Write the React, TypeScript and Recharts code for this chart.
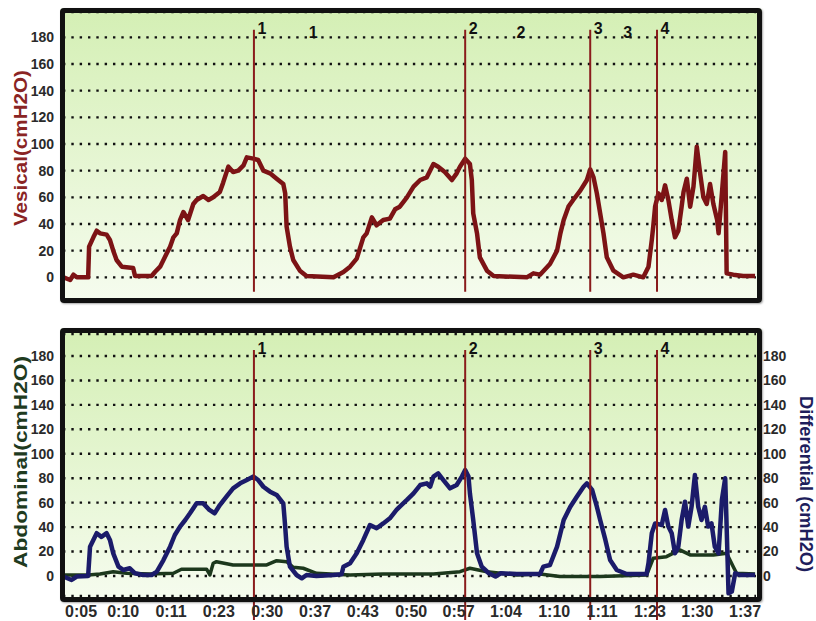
import { LineChart, Line, XAxis, YAxis, CartesianGrid, ReferenceLine, ReferenceDot } from 'recharts';

const FONT = '"Liberation Sans", Arial, Helvetica, sans-serif';

// time axis (sample units), tick labels as printed on the trace
const tickT = [-0.2, 8.7, 18.8, 28.9, 39.1, 49.2, 59.3, 69.5, 79.5, 89.5, 99.7, 109.8, 119.9, 129.9, 140];
const tickLabels = ['0:05', '0:10', '0:11', '0:23', '0:30', '0:37', '0:43', '0:50', '0:57', '1:04', '1:10', '1:11', '1:23', '1:30', '1:37'];
const yTicks = [0, 20, 40, 60, 80, 100, 120, 140, 160, 180];

const markerT = [36.3, 80.9, 107.3, 121.4];
const markerNames = ['1', '2', '3', '4'];
const noteT = [48.8, 92.7, 115.2];
const noteNames = ['1', '2', '3'];

const vesicalT = [
  -3.9, -2.5, -1.8, -1.1, 1.3, 1.5, 2.4, 3.1, 3.8, 5.2, 5.9, 6.6, 7.3, 8.4, 10.8, 11.2, 14.7, 15.4, 16.5, 17.9,
  18.6, 19.3, 20.0, 20.7, 21.4, 22.4, 23.5, 24.2, 25.6, 26.7, 27.7, 29.1, 29.8, 30.9, 31.9, 33.0, 34.1, 34.8, 36.2, 37.2,
  38.3, 39.7, 41.1, 42.5, 42.9, 43.2, 43.9, 44.6, 46.0, 47.4, 53.1, 55.2, 56.6, 58.0, 59.4, 60.1, 61.2, 62.2, 63.6, 65.0,
  66.1, 67.1, 68.6, 70.0, 71.4, 72.8, 74.2, 75.2, 76.6, 78.1, 79.1, 79.8, 80.9, 81.9, 82.3, 82.6, 83.4, 84.0, 85.5, 86.9,
  93.9, 95.3, 96.7, 98.8, 100.3, 101.0, 101.7, 102.7, 103.7, 105.2, 106.6, 107.3, 108.0, 108.7, 109.4, 110.1, 110.8, 112.2, 114.3, 116.4,
  118.5, 119.6, 120.3, 120.6, 121.0, 121.7, 122.4, 123.1, 123.8, 124.5, 125.2, 125.9, 126.6, 127.0, 127.7, 128.4, 129.1, 129.8, 130.5, 131.2,
  131.9, 132.6, 133.3, 134.1, 134.4, 135.1, 135.8, 136.1, 137.5, 139.6, 142.1,
];
const vesicalV = [
  0, -2, 2, 0, 0, 23, 30, 35, 33, 32, 28, 20, 13, 8, 7, 1, 1, 4, 8, 18,
  23, 30, 33, 43, 49, 43, 55, 58, 61, 58, 60, 64, 71, 83, 79, 80, 84, 90, 89, 88,
  80, 78, 74, 70, 63, 38, 23, 13, 5, 1, 0, 4, 8, 14, 30, 33, 45, 39, 43, 44,
  51, 53, 60, 68, 73, 75, 85, 83, 79, 73, 78, 83, 89, 85, 73, 48, 33, 15, 5, 1,
  0, 3, 2, 10, 20, 33, 43, 53, 58, 65, 73, 81, 75, 63, 48, 33, 15, 5, 0, 2,
  0, 8, 28, 38, 53, 63, 58, 69, 58, 43, 30, 35, 53, 64, 74, 53, 68, 98, 78, 60,
  55, 70, 55, 43, 33, 63, 94, 3, 2, 1, 1,
];

const diffT = [
  -3.9, -2.2, -1.1, 1.3, 1.7, 2.4, 3.1, 4.1, 5.2, 5.9, 6.6, 7.7, 8.7, 10.1, 11.2, 12.9, 14.7, 15.8, 17.2, 18.6,
  19.6, 20.7, 21.8, 22.8, 24.2, 25.6, 26.9, 28.0, 29.1, 30.5, 31.9, 33.4, 34.8, 36.2, 37.2, 38.3, 39.7, 41.1, 42.5, 42.9,
  43.2, 43.9, 45.3, 46.4, 47.4, 49.5, 53.1, 54.8, 55.2, 56.6, 58.0, 59.4, 60.8, 62.2, 63.6, 65.0, 66.4, 67.1, 68.6, 70.0,
  71.4, 72.8, 73.5, 74.2, 75.2, 76.3, 77.7, 79.1, 80.2, 80.9, 81.6, 81.9, 82.6, 83.4, 84.4, 85.9, 87.3, 88.4, 91.8, 96.7,
  97.4, 98.8, 100.3, 101.7, 103.1, 104.5, 105.9, 106.6, 107.7, 108.7, 109.4, 110.5, 111.5, 112.9, 115.0, 119.2, 119.6, 120.3, 121.0, 122.4,
  123.1, 123.8, 124.5, 125.2, 125.9, 126.6, 127.3, 128.0, 128.7, 129.4, 130.1, 130.8, 131.5, 132.2, 132.9, 133.6, 134.4, 135.1, 135.8, 136.1,
  136.5, 137.2, 137.9, 138.9, 142.1,
];
const diffV = [
  -0.5, -3.3, -0.5, 0, 24, 29.5, 35, 32, 35, 29.5, 18.5, 7.6, 4.9, 6.3, 2.2, 0.8, 0.8, 3.5, 13, 24,
  33.5, 40.4, 45.8, 51.3, 59.4, 59.4, 54, 51.3, 58, 65, 71.7, 75.8, 78.5, 81.3, 78.5, 73, 69, 66.3, 59.4, 40.4,
  24, 7.6, 0.8, -1.9, 0.8, 0, 0.8, 1.4, 7.6, 10.4, 18.5, 29.5, 41.7, 39, 43, 47.2, 54, 56.7, 62.2, 67.6,
  74.4, 75.8, 73, 81.3, 84, 78.5, 71.7, 74.4, 81.3, 86.7, 81.3, 67.6, 45.8, 18.5, 7.6, 2.2, -0.5, 2.2, 1.6, 1.6,
  7.6, 9, 24, 45.8, 56.7, 65, 73, 75.8, 70.4, 56.7, 45.8, 29.5, 13, 4.9, 1.6, 1.6, 10.4, 35, 43, 41.7,
  54, 40.4, 35, 18.5, 24, 45.8, 60.8, 40.4, 56.7, 82.6, 56.7, 45.8, 56.7, 40.4, 43, 24, 18.5, 62.2, 80, 40.4,
  -14.2, -12.8, 2.2, 0.8, 0.8,
];

const abdT = [
  -3.9, 1.3, 3.8, 6.6, 9.4, 14.3, 19.3, 21.0, 26.3, 27.0, 27.7, 28.4, 31.9, 36.2, 39.0, 41.1, 43.2, 44.6, 46.7, 49.5,
  56.6, 63.6, 67.1, 74.2, 79.8, 81.9, 85.5, 91.8, 96.7, 100.9, 109.4, 119.2, 120.6, 123.4, 126.2, 128.4, 133.3, 136.1, 137.5, 138.2,
  142.1,
];
const abdV = [
  0.8, 0.8, 1.6, 3.5, 2.2, 1.6, 2.2, 5.5, 5.5, 0.8, 10.4, 11.7, 9, 9, 9, 12.5, 11.7, 7.1, 6.3, 2.2,
  0.8, 1.6, 1.6, 1.6, 3.5, 6.3, 3.5, 0.8, 1.6, -0.5, -0.5, 0.8, 14.5, 15.8, 21.3, 17.2, 17.2, 18.5, 7.6, 2.2,
  1.6,
];

const zip = (t: number[], v: number[]) => t.map((x, i) => ({ t: x, v: v[i] }));
const vesicalData = zip(vesicalT, vesicalV);
const diffData = zip(diffT, diffV);
const abdData = zip(abdT, abdV);

const X_DOMAIN: [number, number] = [-4.01, 142.3];
const tickStyle = { fontFamily: FONT, fontWeight: 'bold', fontSize: 14, fill: '#2a2a2a' };

function SideTitle({ x, y, angle, len, color, text }: any) {
  return (
    <text
      x={x}
      y={y}
      transform={`rotate(${angle} ${x} ${y})`}
      textAnchor="middle"
      dominantBaseline="central"
      textLength={len}
      lengthAdjust="spacingAndGlyphs"
      fill={color}
      fontFamily={FONT}
      fontWeight="bold"
      fontSize={18}
    >
      {text}
    </text>
  );
}

function Tag({ viewBox, text, dx, dy, anchor }: any) {
  if (!viewBox) return null;
  return (
    <text x={viewBox.x + dx} y={viewBox.y + dy} textAnchor={anchor} fontFamily={FONT} fontWeight="bold" fontSize={16} fill="#111">
      {text}
    </text>
  );
}

function Frame({ top, height }: { top: number; height: number }) {
  return (
    <div
      style={{
        position: 'absolute', left: 60, top, width: 702, height,
        background: 'linear-gradient(#d4efb4, #f6fcef)', borderRadius: 4,
      }}
    />
  );
}

function Border({ top, height }: { top: number; height: number }) {
  return (
    <div
      style={{
        position: 'absolute', left: 60, top, width: 702, height, boxSizing: 'border-box',
        border: '5px solid #111', borderRadius: 4, pointerEvents: 'none',
        boxShadow: '1px 1px 2px rgba(0,0,0,0.35)',
      }}
    />
  );
}

export default function App() {
  return (
    <div style={{ position: 'absolute', left: 0, top: 0, width: 816, height: 621, background: '#fff', overflow: 'hidden' }}>
      <Frame top={8} height={295} />
      <Frame top={328} height={274} />

      <div style={{ position: 'absolute', left: 0, top: 0 }}>
        <LineChart width={816} height={310} margin={{ top: 12, right: 60, bottom: 10, left: 0 }}>
          <CartesianGrid vertical={false} stroke="#111" strokeWidth={2.4} strokeDasharray="2.4 5.93" />
          <XAxis type="number" dataKey="t" domain={X_DOMAIN} allowDataOverflow hide />
          <YAxis
            type="number"
            domain={[-17, 199]}
            ticks={yTicks}
            interval={0}
            allowDataOverflow
            width={63}
            tickLine={false}
            axisLine={false}
            tickSize={0}
            tickMargin={9}
            tick={tickStyle}
            label={() => <SideTitle x={21} y={148} angle={-90} len={156} color="#8a2424" text="Vesical(cmH2O)" />}
          />
          <Line data={vesicalData} dataKey="v" type="linear" stroke="#7c1315" strokeWidth={4.5} strokeLinejoin="round" dot={false} isAnimationActive={false} />
          {markerT.map((x, i) => (
            <ReferenceLine
              key={'m' + i}
              segment={[{ x, y: -10.9 }, { x, y: 185.6 }]}
              stroke="#8a1c1c"
              strokeWidth={2}
              ifOverflow="visible"
              label={(p: any) => <Tag viewBox={p.viewBox} text={markerNames[i]} dx={3.5} dy={4} anchor="start" />}
            />
          ))}
          {noteT.map((x, i) => (
            <ReferenceDot
              key={'n' + i}
              x={x}
              y={179.6}
              r={0}
              fill="none"
              stroke="none"
              ifOverflow="visible"
              label={(p: any) => <Tag viewBox={p.viewBox} text={noteNames[i]} dx={0} dy={0} anchor="middle" />}
            />
          ))}
        </LineChart>
      </div>

      <div style={{ position: 'absolute', left: 0, top: 320 }}>
        <LineChart width={816} height={301} margin={{ top: 14, right: 0, bottom: 0, left: 0 }}>
          <CartesianGrid vertical={false} stroke="#111" strokeWidth={2.4} strokeDasharray="2.4 5.93" />
          <XAxis
            type="number"
            dataKey="t"
            domain={X_DOMAIN}
            allowDataOverflow
            ticks={tickT}
            interval={0}
            tickFormatter={(v: number) => tickLabels[tickT.indexOf(v)]}
            height={25}
            tickLine={false}
            axisLine={false}
            tickSize={0}
            tickMargin={10}
            tick={{ ...tickStyle, fontSize: 16 }}
          />
          <YAxis
            type="number"
            domain={[-16.4, 198]}
            ticks={yTicks}
            interval={0}
            allowDataOverflow
            width={63}
            tickLine={false}
            axisLine={false}
            tickSize={0}
            tickMargin={9}
            tick={tickStyle}
            label={() => <SideTitle x={21} y={142} angle={-90} len={212} color="#1f3b1f" text="Abdominal(cmH2O)" />}
          />
          <YAxis
            yAxisId="r"
            orientation="right"
            type="number"
            domain={[-16.4, 198]}
            ticks={yTicks}
            interval={0}
            allowDataOverflow
            width={60}
            tickLine={false}
            axisLine={false}
            tickSize={0}
            tickMargin={7}
            tick={tickStyle}
            label={() => <SideTitle x={806} y={164} angle={90} len={176} color="#1e1e5c" text="Differential (cmH2O)" />}
          />
          <Line data={abdData} dataKey="v" type="linear" stroke="#1c381c" strokeWidth={3.5} strokeLinejoin="round" dot={false} isAnimationActive={false} />
          <Line yAxisId="r" data={diffData} dataKey="v" type="linear" stroke="#1b1b6a" strokeWidth={4.5} strokeLinejoin="round" dot={false} isAnimationActive={false} />
          {markerT.map((x, i) => (
            <ReferenceLine
              key={'m' + i}
              segment={[{ x, y: -36 }, { x, y: 184.9 }]}
              stroke="#8a1c1c"
              strokeWidth={2}
              ifOverflow="visible"
              label={(p: any) => <Tag viewBox={p.viewBox} text={markerNames[i]} dx={3.5} dy={4} anchor="start" />}
            />
          ))}
        </LineChart>
      </div>

      <Border top={8} height={295} />
      <Border top={328} height={274} />
    </div>
  );
}
